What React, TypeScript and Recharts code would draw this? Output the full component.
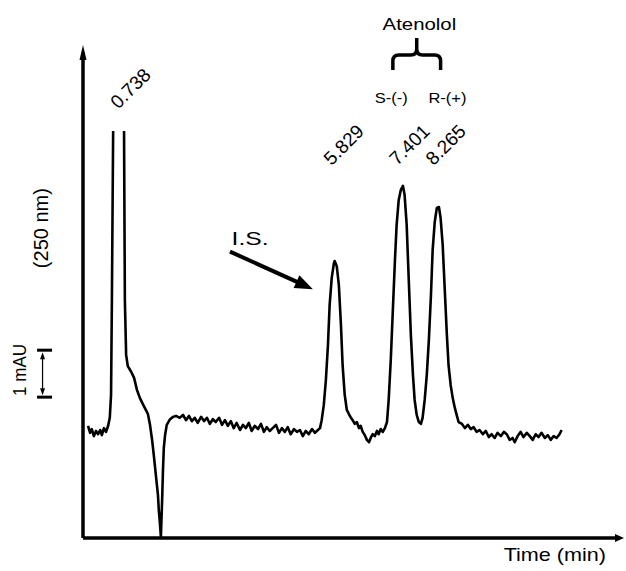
import React from 'react';
import { LineChart, Line, XAxis, YAxis, ReferenceLine, ReferenceDot } from 'recharts';

const FONT = '"Liberation Sans", Arial, Helvetica, sans-serif';

// Retention time (min)
const times = [
  -0.08, -0.03, 0.01, 0.06, 0.11, 0.16, 0.21, 0.25, 0.30, 0.35, 0.40, 0.44, 0.47, 0.49, 0.52,
  0.65,
  0.78, 0.80, 0.83, 0.87, 0.95, 1.02, 1.09, 1.16, 1.23, 1.30, 1.35, 1.40, 1.45, 1.49, 1.54, 1.59, 1.61, 1.64, 1.66, 1.69, 1.71, 1.73, 1.76,
  1.80, 1.88, 1.95, 2.02,
  2.11, 2.19, 2.26, 2.33, 2.40, 2.47, 2.54, 2.62, 2.69, 2.76,
  2.83, 2.90, 2.97, 3.05, 3.12, 3.19, 3.26, 3.33, 3.40, 3.47,
  3.55, 3.62, 3.69, 3.76, 3.83, 3.90, 3.98, 4.05, 4.12, 4.19,
  4.26, 4.33, 4.41, 4.48, 4.55, 4.62, 4.69, 4.76, 4.84, 4.91,
  4.98, 5.05, 5.12, 5.19, 5.27, 5.34, 5.41, 5.46,
  5.50, 5.55, 5.60, 5.65, 5.69, 5.74, 5.79, 5.81, 5.86, 5.91,
  5.96, 6.00, 6.05, 6.10, 6.15, 6.20, 6.24, 6.29, 6.34, 6.39,
  6.43, 6.48, 6.53, 6.58, 6.63, 6.67, 6.72, 6.77, 6.82, 6.86,
  6.91, 6.96,
  7.01, 7.06, 7.10, 7.15, 7.20, 7.25, 7.29, 7.34, 7.39, 7.44,
  7.48, 7.53, 7.58, 7.63, 7.68, 7.72, 7.77, 7.82, 7.87, 7.91,
  7.96, 8.01, 8.06, 8.11, 8.15, 8.20, 8.25, 8.30, 8.34, 8.39,
  8.44, 8.49, 8.53, 8.58, 8.63, 8.68, 8.73, 8.77,
  8.85, 8.92, 8.99, 9.06, 9.13, 9.20, 9.27, 9.35, 9.42, 9.49,
  9.56, 9.63, 9.70, 9.78, 9.85, 9.92, 9.99, 10.06, 10.11, 10.18,
  10.25, 10.32, 10.40, 10.47, 10.54, 10.61, 10.68, 10.75, 10.83, 10.90,
  10.97, 11.04, 11.11, 11.18, 11.23,
];

// Detector signal (mAU, 250 nm); null = off-scale solvent front
const signal = [
  0.09, -0.06, 0.02, -0.13, -0.02, -0.09, 0.00, -0.11, 0.04, -0.04, 0.09, 0.26, 0.75, 2.77, 6.37,
  null,
  6.37, 2.77, 1.60, 1.36, 1.24, 1.11, 0.85, 0.68, 0.55, 0.43, 0.34, 0.11, -0.21, -0.53, -0.96, -1.38, -1.70, -2.02, -2.28, -1.49, -0.85, -0.38, -0.11,
  0.11, 0.23, 0.28, 0.30,
  0.26, 0.32, 0.21, 0.30, 0.19, 0.26, 0.15, 0.28, 0.19, 0.26,
  0.13, 0.23, 0.17, 0.26, 0.11, 0.21, 0.09, 0.19, 0.04, 0.15,
  0.00, 0.11, 0.04, 0.15, -0.02, 0.09, 0.02, 0.13, -0.04, 0.06,
  -0.02, 0.04, 0.11, -0.06, 0.04, -0.04, 0.06, -0.09, 0.02, -0.04,
  0.00, -0.13, -0.02, -0.09, 0.02, -0.06, 0.00, 0.04,
  0.21, 0.53, 1.06, 1.81, 2.66, 3.24, 3.54, 3.60, 3.49, 3.09,
  2.24, 1.38, 0.75, 0.43, 0.34, 0.26, 0.21, 0.13, 0.17, 0.04,
  0.09, -0.04, -0.11, -0.21, -0.26, -0.17, -0.09, -0.13, -0.02, -0.09,
  0.02, -0.04,
  0.04, 0.17, 0.64, 1.49, 2.56, 3.62, 4.37, 4.90, 5.11, 5.20,
  5.01, 4.37, 3.19, 2.02, 1.17, 0.64, 0.32, 0.17, 0.13, 0.26,
  0.64, 1.17, 1.92, 2.88, 3.83, 4.43, 4.73, 4.75, 4.52, 3.94,
  2.98, 2.02, 1.38, 0.96, 0.68, 0.47, 0.30, 0.17,
  0.13, 0.04, 0.11, 0.02, 0.06, -0.04, 0.00, -0.09, -0.02, -0.15,
  -0.09, -0.17, -0.06, -0.13, -0.04, -0.09, -0.21, -0.17, -0.26, -0.13,
  -0.04, -0.15, -0.06, -0.13, -0.21, -0.09, -0.15, -0.06, -0.17, -0.11,
  -0.21, -0.13, -0.17, -0.09, 0.00,
];

const peakTimes = [0.738, 5.829, 7.401, 8.265];
const peakLabels = ['0.738', '5.829', '7.401', '8.265'];
const enantiomerLabels = ['S-(-)', 'R-(+)'];
const compoundName = 'Atenolol';
const internalStdLabel = 'I.S.';
const xTitle = 'Time (min)';
const yTitle = '(250 nm)';
const scaleTitle = '1 mAU';

const X_DOMAIN: [number, number] = [-0.2, 12.72];
const Y_DOMAIN: [number, number] = [-2.3, 8.2];

const data = times.map((t, i) => ({ t, v: signal[i] }));

// annotation anchors (data coordinates)
const peakLabelLevels = [6.82, 5.62, 5.62, 5.62];
const enantiomerLevel = 6.96;
const compoundLevel = 8.52;
const braceSpan = [7.2, 8.34];
const braceLevel = 7.67;
const isArrow = [{ x: 3.31, y: 3.8 }, { x: 5.29, y: 3.0 }];
const isText = { x: 3.79, y: 3.94 };
const scaleBar = { x: -1.13, from: 0.7, to: 1.7 };

const arrowHead = (x1: number, y1: number, x2: number, y2: number, len: number, half: number) => {
  const dx = x2 - x1;
  const dy = y2 - y1;
  const L = Math.hypot(dx, dy) || 1;
  const ux = dx / L;
  const uy = dy / L;
  const bx = x2 - ux * len;
  const by = y2 - uy * len;
  const px = -uy * half;
  const py = ux * half;
  return {
    bx: x2 - ux * len * 0.5,
    by: y2 - uy * len * 0.5,
    points: `${x2},${y2} ${bx + px},${by + py} ${bx - px},${by - py}`,
  };
};

const arrowShape = (len: number, half: number, width: number) => (props: any) => {
  const { x1, y1, x2, y2 } = props;
  const h = arrowHead(x1, y1, x2, y2, len, half);
  return (
    <g>
      <line x1={x1} y1={y1} x2={h.bx} y2={h.by} stroke="#000" strokeWidth={width} />
      <polygon points={h.points} fill="#000" />
    </g>
  );
};

const braceShape = (props: any) => {
  const { x1, y1, x2 } = props;
  const xa = Math.min(x1, x2);
  const xb = Math.max(x1, x2);
  const xm = (xa + xb) / 2;
  const yb = y1 - 15;
  const r = 6;
  const d = `M${xa},${y1} L${xa},${yb + r} Q${xa},${yb} ${xa + r},${yb} L${xm - r},${yb} Q${xm},${yb} ${xm},${yb - r} L${xm},${yb - 17}` +
    ` M${xm},${yb - r} Q${xm},${yb} ${xm + r},${yb} L${xb - r},${yb} Q${xb},${yb} ${xb},${yb + r} L${xb},${y1}`;
  return <path d={d} fill="none" stroke="#000" strokeWidth={3.5} />;
};

const scaleBarShape = (props: any) => {
  const { x1, y1, y2 } = props;
  const top = Math.min(y1, y2);
  const bot = Math.max(y1, y2);
  const ax = x1 - 1.5;
  return (
    <g>
      <line x1={x1 - 7} x2={x1 + 8} y1={top} y2={top} stroke="#000" strokeWidth={3} />
      <line x1={x1 - 7} x2={x1 + 8} y1={bot} y2={bot} stroke="#000" strokeWidth={3} />
      <line x1={ax} x2={ax} y1={top + 6} y2={bot - 6} stroke="#000" strokeWidth={1.2} />
      <polygon points={`${ax},${top + 2} ${ax - 2.5},${top + 9} ${ax + 2.5},${top + 9}`} fill="#000" />
      <polygon points={`${ax},${bot - 2} ${ax - 2.5},${bot - 9} ${ax + 2.5},${bot - 9}`} fill="#000" />
    </g>
  );
};

type TextOpts = { dx?: number; dy?: number; size: number; rotate?: number; sx?: number; sy?: number; anchor?: string };
const textShape = (text: string, o: TextOpts) => (props: any) => {
  const { cx, cy } = props;
  const x = cx + (o.dx || 0);
  const y = cy + (o.dy || 0);
  return (
    <text
      transform={`translate(${x},${y}) rotate(${o.rotate || 0}) scale(${o.sx || 1},${o.sy || 1})`}
      textAnchor={o.anchor || 'start'}
      fontFamily={FONT}
      fontSize={o.size}
      fill="#000"
    >
      {text}
    </text>
  );
};

export default function App() {
  return (
    <div style={{ position: 'absolute', left: 0, top: 0, width: 626, height: 571 }}>
      <LineChart
        width={626}
        height={571}
        data={data}
        margin={{ top: 45, right: 2, bottom: 33, left: 83 }}
      >
        <XAxis type="number" dataKey="t" domain={X_DOMAIN} hide allowDataOverflow />
        <YAxis type="number" domain={Y_DOMAIN} hide allowDataOverflow />

        {/* axes with arrowheads */}
        <ReferenceLine
          segment={[{ x: X_DOMAIN[0], y: Y_DOMAIN[0] }, { x: X_DOMAIN[0], y: Y_DOMAIN[1] }]}
          ifOverflow="visible"
          shape={arrowShape(15, 3.5, 3.5)}
        />
        <ReferenceLine
          segment={[{ x: X_DOMAIN[0], y: Y_DOMAIN[0] }, { x: X_DOMAIN[1], y: Y_DOMAIN[0] }]}
          ifOverflow="visible"
          shape={arrowShape(9, 4, 3.5)}
        />

        <Line
          type="linear"
          dataKey="v"
          stroke="#000"
          strokeWidth={2.6}
          strokeLinejoin="round"
          dot={false}
          activeDot={false}
          connectNulls={false}
          isAnimationActive={false}
        />

        {peakTimes.map((t, i) => (
          <ReferenceDot
            key={peakLabels[i]}
            x={t}
            y={peakLabelLevels[i]}
            r={1}
            ifOverflow="visible"
            shape={textShape(peakLabels[i], { dx: -4, size: 19, rotate: -45 })}
          />
        ))}

        <ReferenceDot
          x={peakTimes[2]}
          y={enantiomerLevel}
          r={1}
          ifOverflow="visible"
          shape={textShape(enantiomerLabels[0], { dx: -10, size: 15, sx: 1.1, anchor: 'middle' })}
        />
        <ReferenceDot
          x={peakTimes[3]}
          y={enantiomerLevel}
          r={1}
          ifOverflow="visible"
          shape={textShape(enantiomerLabels[1], { dx: 10, size: 15, sx: 1.1, anchor: 'middle' })}
        />
        <ReferenceDot
          x={(peakTimes[2] + peakTimes[3]) / 2}
          y={compoundLevel}
          r={1}
          ifOverflow="visible"
          shape={textShape(compoundName, { size: 17, sx: 1.2, anchor: 'middle' })}
        />
        <ReferenceLine
          segment={[{ x: braceSpan[0], y: braceLevel }, { x: braceSpan[1], y: braceLevel }]}
          ifOverflow="visible"
          shape={braceShape}
        />

        <ReferenceLine segment={isArrow} ifOverflow="visible" shape={arrowShape(18, 7, 4)} />
        <ReferenceDot
          x={isText.x}
          y={isText.y}
          r={1}
          ifOverflow="visible"
          shape={textShape(internalStdLabel, { size: 19, sx: 1.3, anchor: 'middle' })}
        />

        <ReferenceDot
          x={X_DOMAIN[1]}
          y={Y_DOMAIN[0]}
          r={1}
          ifOverflow="visible"
          shape={textShape(xTitle, { dx: -18, dy: 23, size: 18, sx: 1.2, anchor: 'end' })}
        />
        <ReferenceDot
          x={X_DOMAIN[0]}
          y={4.3}
          r={1}
          ifOverflow="visible"
          shape={textShape(yTitle, { dx: -35, size: 20, rotate: -90, sy: 1.0, anchor: 'middle' })}
        />
        <ReferenceDot
          x={X_DOMAIN[0]}
          y={1.28}
          r={1}
          ifOverflow="visible"
          shape={textShape(scaleTitle, { dx: -57, size: 17, rotate: -90, sy: 1.1, anchor: 'middle' })}
        />
        <ReferenceLine
          segment={[{ x: scaleBar.x, y: scaleBar.from }, { x: scaleBar.x, y: scaleBar.to }]}
          ifOverflow="visible"
          shape={scaleBarShape}
        />
      </LineChart>
    </div>
  );
}
